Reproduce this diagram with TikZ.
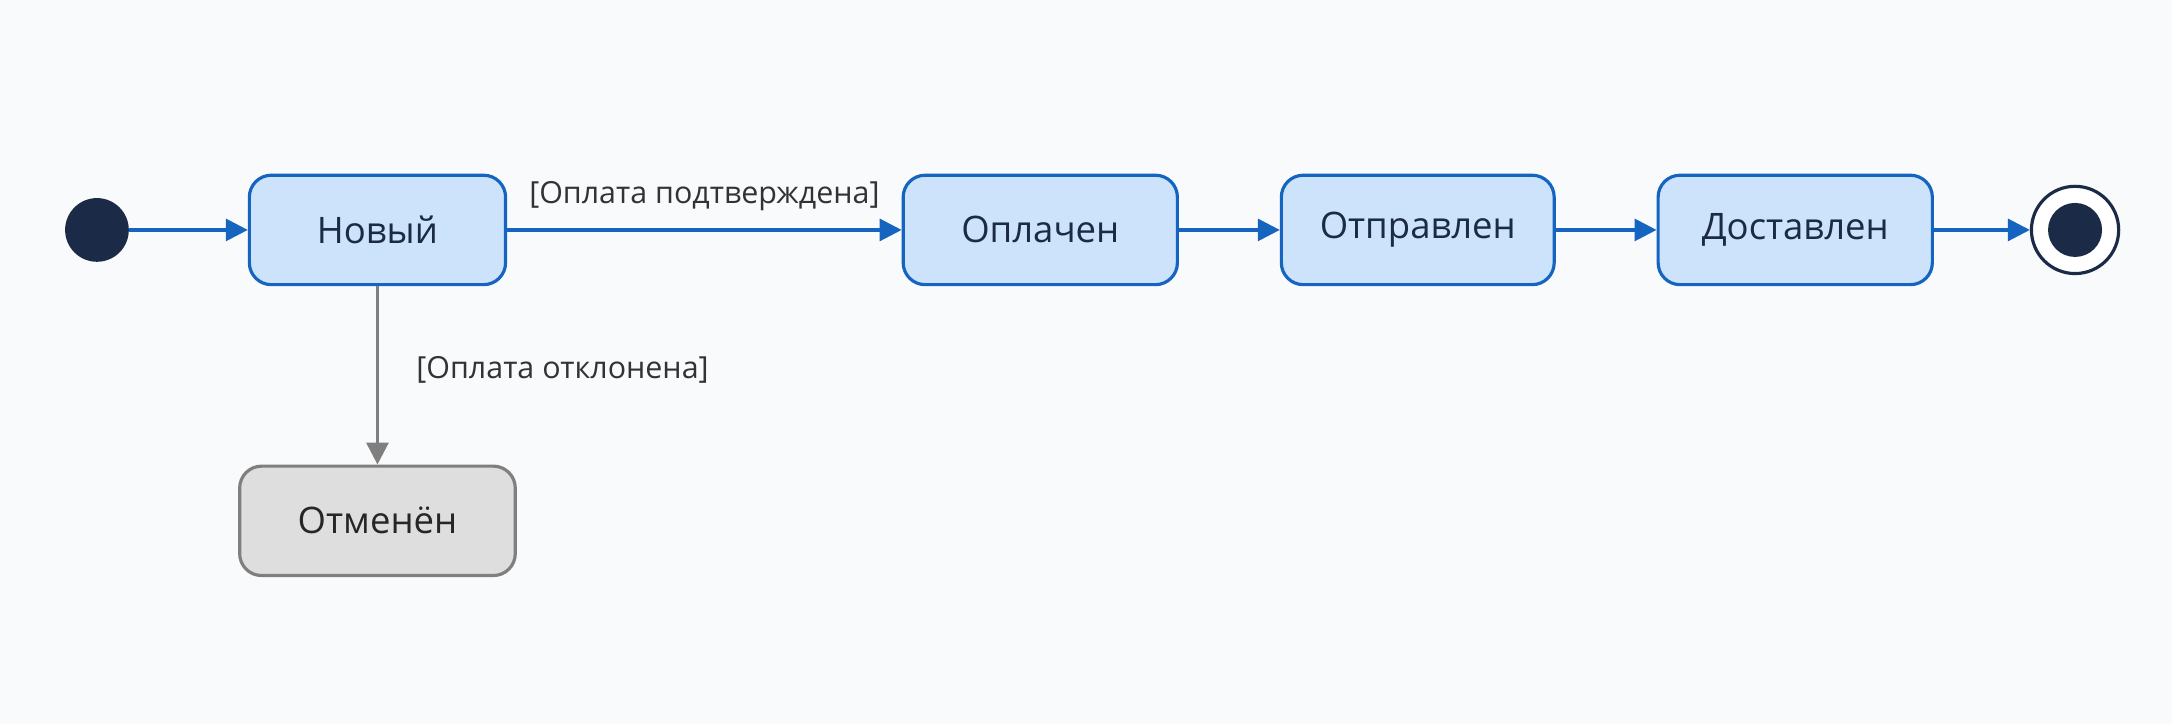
\documentclass[tikz,border=0pt]{standalone}
\usepackage{fontspec}
\setmainfont{Open Sans}
\usetikzlibrary{arrows.meta,positioning}
\definecolor{bluefill}{HTML}{CCE3FB}
\definecolor{blueline}{HTML}{1565C0}
\definecolor{darkdot}{HTML}{1B2A47}
\definecolor{greyfill}{HTML}{DEDEDE}
\definecolor{greyline}{HTML}{7F7F7F}
\definecolor{bg}{HTML}{F9FAFB}
\tikzset{
  state/.style={draw=blueline,fill=bluefill,line width=1.3pt,rounded corners=9pt,
    minimum height=1.58cm,font=\fontsize{15}{18}\selectfont,text=darkdot},
  cancel/.style={state,draw=greyline,fill=greyfill,text=black!85},
  flow/.style={-{Triangle[length=9pt,width=9pt]},blueline,line width=1.3pt},
  guard/.style={font=\fontsize{12.5}{15}\selectfont,text=black!80}
}
\begin{document}
\begin{tikzpicture}[x=0.02cm,y=-0.02cm]
\fill[bg] (0,0) rectangle (1568,523);
\useasboundingbox (0,0) rectangle (1568,523);
\node[circle,fill=darkdot,minimum size=0.92cm,inner sep=0] (start) at (70,166) {};
\node[state,minimum width=3.7cm] (new) at (272.5,166) {Новый};
\node[state,minimum width=3.96cm] (paid) at (751,166) {Оплачен};
\node[state,minimum width=3.94cm] (sent) at (1023.5,166) {Отправлен};
\node[state,minimum width=3.96cm] (done) at (1296,166) {Доставлен};
\node[cancel,minimum width=3.98cm] (cancelled) at (272.5,376) {Отменён};
\node[circle,draw=darkdot,fill=white,line width=1.3pt,minimum size=1.26cm,inner sep=0] (end) at (1498,166) {};
\node[circle,fill=darkdot,minimum size=0.78cm,inner sep=0] at (end) {};
\draw[flow] (start) -- (new);
\draw[flow] (new) -- node[guard,above=4pt] {[Оплата подтверждена]} (paid);
\draw[flow] (paid) -- (sent);
\draw[flow] (sent) -- (done);
\draw[flow] (done) -- (end);
\draw[flow,greyline] (new) -- node[guard,right=12pt,pos=0.47] {[Оплата отклонена]} (cancelled);
\end{tikzpicture}
\end{document}
